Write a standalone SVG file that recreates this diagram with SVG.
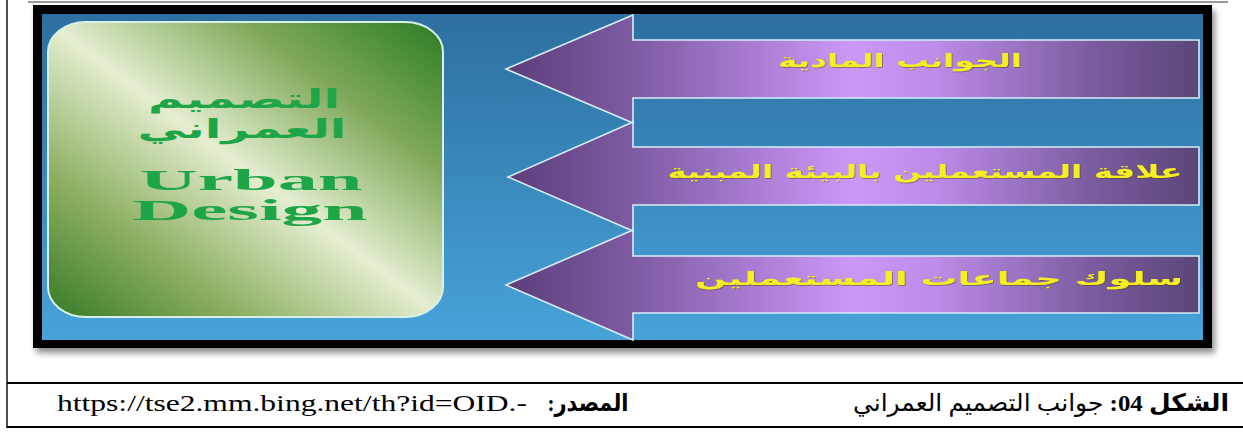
<svg xmlns="http://www.w3.org/2000/svg" width="1243" height="441" viewBox="0 0 1243 441">
<style>
.rule{stroke:#000;stroke-width:2;fill:none}
.arrow{stroke:#d6ecf8;stroke-width:1.6;stroke-linejoin:miter}
.lbl{font-family:"DejaVu Sans",sans-serif;font-weight:bold;font-size:19px;fill:#f4ee22;text-anchor:middle;filter:url(#tsh)}
.ar{font-family:"DejaVu Sans",sans-serif;font-weight:bold;font-size:26px;fill:#1ea548;text-anchor:middle}
.en{font-family:"Liberation Serif",serif;font-weight:bold;font-size:30px;fill:#1ea548;text-anchor:middle}
.cap{font-family:"Liberation Serif","DejaVu Sans",serif;font-size:24px;fill:#000}
</style>
<defs>
<linearGradient id="bg" x1="0" y1="0" x2="0" y2="1">
<stop offset="0" stop-color="#2d6fa0"/>
<stop offset="1" stop-color="#47a3d8"/>
</linearGradient>
<linearGradient id="green" x1="1" y1="0" x2="0" y2="1">
<stop offset="0" stop-color="#2b7d22"/>
<stop offset="0.25" stop-color="#7fa85a"/>
<stop offset="0.5" stop-color="#e4eed0"/>
<stop offset="0.75" stop-color="#8fb064"/>
<stop offset="1" stop-color="#367a26"/>
</linearGradient>
<linearGradient id="purp" gradientUnits="userSpaceOnUse" x1="506" y1="0" x2="1199" y2="0">
<stop offset="0" stop-color="#5c3e7a"/>
<stop offset="0.18" stop-color="#7d5aa2"/>
<stop offset="0.5" stop-color="#cc98f8"/>
<stop offset="0.62" stop-color="#bc8ce8"/>
<stop offset="0.85" stop-color="#7a5b9e"/>
<stop offset="1" stop-color="#5a4678"/>
</linearGradient>
<filter id="shadow" x="-5%" y="-5%" width="110%" height="115%">
<feDropShadow dx="3" dy="5" stdDeviation="3" flood-color="#000" flood-opacity="0.45"/>
</filter>
<filter id="tsh" x="-5%" y="-20%" width="110%" height="150%">
<feDropShadow dx="0.8" dy="0.8" stdDeviation="0.6" flood-color="#4a3a10" flood-opacity="0.6"/>
</filter>
</defs>

<g id="table">
<line x1="7" y1="0" x2="7" y2="428" stroke="#000" stroke-width="1.4"/>
<line x1="28" y1="2" x2="1228" y2="2" stroke="#333" stroke-width="1"/>
<line class="rule" x1="7" y1="383" x2="1243" y2="383"/>
<line class="rule" x1="7" y1="427" x2="1243" y2="427"/>
</g>

<g id="frame">
<rect x="33" y="5" width="1179" height="343" fill="#000" filter="url(#shadow)"/>
<rect x="42" y="14" width="1161" height="326" fill="url(#bg)"/>
</g>

<g id="node-urban-design">
<rect x="48" y="22" width="395" height="295" rx="38" ry="30" fill="url(#green)" stroke="#d8f0e6" stroke-width="2"/>
<text class="ar" x="244" y="108" textLength="192" lengthAdjust="spacingAndGlyphs">التصميم</text>
<text class="ar" x="242" y="138" textLength="209" lengthAdjust="spacingAndGlyphs">العمراني</text>
<text class="en" x="251" y="190" textLength="223" lengthAdjust="spacingAndGlyphs">Urban</text>
<text class="en" x="250" y="220" textLength="235" lengthAdjust="spacingAndGlyphs">Design</text>
</g>

<g id="connectors">
<g id="arrow-1">
<polygon class="arrow" fill="url(#purp)" points="506,69 633,15 633,40 1199,40 1199,98 633,98 633,123"/>
<text class="lbl" x="900" y="67" textLength="244" lengthAdjust="spacingAndGlyphs">الجوانب المادية</text>
</g>
<g id="arrow-2">
<polygon class="arrow" fill="url(#purp)" points="508,177 633,122 633,147 1199,147 1199,205 633,205 633,231"/>
<text class="lbl" x="925" y="178" textLength="515" lengthAdjust="spacingAndGlyphs">علاقة المستعملين بالبيئة المبنية</text>
</g>
<g id="arrow-3">
<polygon class="arrow" fill="url(#purp)" points="506,285 633,230 633,256 1199,256 1199,313 633,313 633,340"/>
<text class="lbl" x="939" y="285" textLength="488" lengthAdjust="spacingAndGlyphs">سلوك جماعات المستعملين</text>
</g>
</g>

<g id="caption">
<text class="cap" x="57" y="411" font-size="27" textLength="470" lengthAdjust="spacingAndGlyphs">https://tse2.mm.bing.net/th?id=OID.-</text>
<text class="cap" x="588" y="411" direction="rtl" text-anchor="middle" font-weight="bold" textLength="81" lengthAdjust="spacingAndGlyphs">المصدر:</text>
<text class="cap" x="1041" y="411" direction="rtl" text-anchor="middle" textLength="376" lengthAdjust="spacingAndGlyphs"><tspan font-weight="bold">الشكل 04:</tspan> جوانب التصميم العمراني</text>
</g>
</svg>
